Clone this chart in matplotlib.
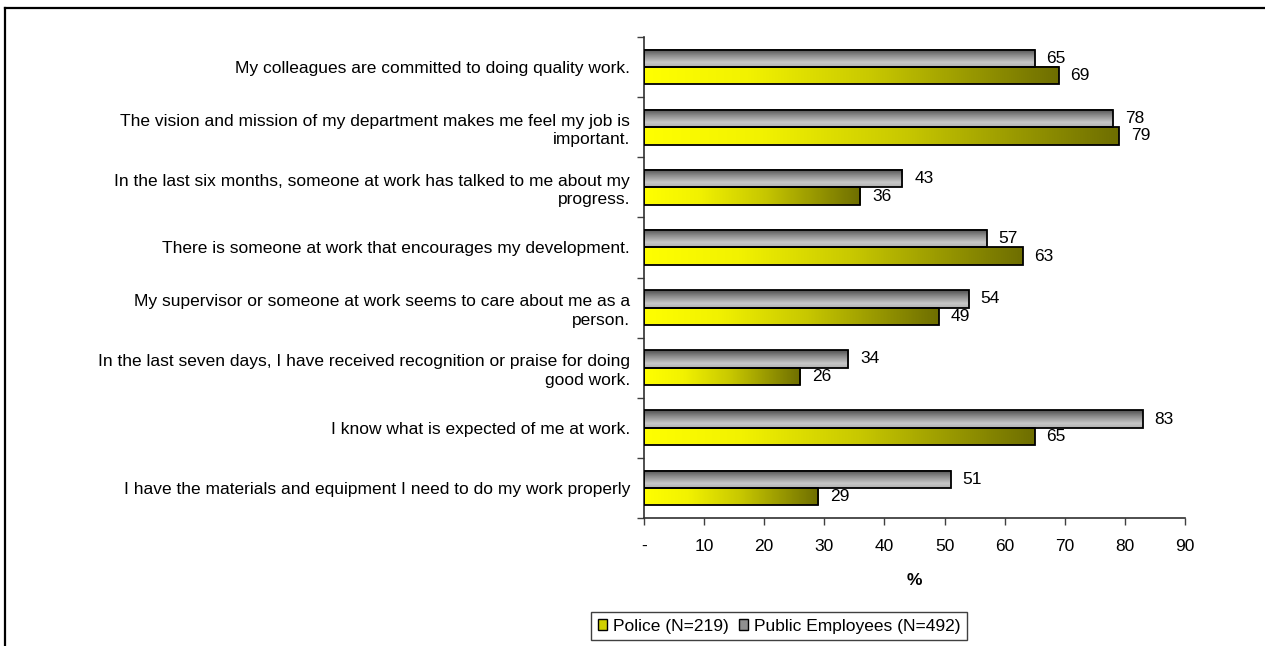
import numpy as np
import matplotlib
matplotlib.use("Agg")
import matplotlib.pyplot as plt
from matplotlib.lines import Line2D
from matplotlib.patches import Patch
from matplotlib.colors import LinearSegmentedColormap

plt.rcParams['font.family'] = ['Liberation Sans', 'DejaVu Sans']

# Survey statements, top to bottom
statements = [
    "My colleagues are committed to doing quality work.",
    "The vision and mission of my department makes me feel my job is\nimportant.",
    "In the last six months, someone at work has talked to me about my\nprogress.",
    "There is someone at work that encourages my development.",
    "My supervisor or someone at work seems to care about me as a\nperson.",
    "In the last seven days, I have received recognition or praise for doing\ngood work.",
    "I know what is expected of me at work.",
    "I have the materials and equipment I need to do my work properly",
]
police = [69, 79, 36, 63, 49, 26, 65, 29]
public_employees = [65, 78, 43, 57, 54, 34, 83, 51]
series_labels = ["Police (N=219)", "Public Employees (N=492)"]
x_ticks = [0, 10, 20, 30, 40, 50, 60, 70, 80, 90]
x_tick_labels = ["-", "10", "20", "30", "40", "50", "60", "70", "80", "90"]

FS = 12.5
W, H = 1265, 646
fig = plt.figure(figsize=(W / 100, H / 100), dpi=100)
ax = fig.add_axes([644 / W, 1 - 518 / H, (1185 - 644) / W, (518 - 37) / H])

n = len(statements)
pos = np.arange(n)
bh = 0.29

yellow_cmap = LinearSegmentedColormap.from_list(
    "ylw", [(0.0, "#ffff00"), (0.25, "#f2f200"), (0.55, "#c8c800"),
            (0.86, "#8a8a00"), (1.0, "#6e6e00")])
gray_cmap = LinearSegmentedColormap.from_list(
    "gry", [(0.0, "#505050"), (0.35, "#8c8c8c"), (0.75, "#c8c8c8"),
            (1.0, "#b0b0b0")])

gbars = ax.barh(pos - bh / 2, public_employees, height=bh, facecolor="none",
                edgecolor="black", linewidth=1.3, zorder=3)
ybars = ax.barh(pos + bh / 2, police, height=bh, facecolor="none",
                edgecolor="black", linewidth=1.3, zorder=3)

grad_h = np.linspace(0, 1, 256).reshape(1, -1)
grad_v = np.linspace(0, 1, 64).reshape(-1, 1)
for b in gbars:
    x0, y0, w, h = b.get_x(), b.get_y(), b.get_width(), b.get_height()
    ax.imshow(grad_v, cmap=gray_cmap, extent=(x0, x0 + w, y0 + h, y0),
              origin="upper", aspect="auto", zorder=2, interpolation="bilinear")
for b in ybars:
    x0, y0, w, h = b.get_x(), b.get_y(), b.get_width(), b.get_height()
    ax.imshow(grad_h, cmap=yellow_cmap, extent=(x0, x0 + w, y0 + h, y0),
              origin="upper", aspect="auto", zorder=2, interpolation="bilinear")

# value labels
for bars, vals in ((gbars, public_employees), (ybars, police)):
    for b, v in zip(bars, vals):
        ax.annotate(f"{v}", (b.get_width(), b.get_y() + b.get_height() / 2),
                    xytext=(8.5, 0), textcoords="offset points", ha="left",
                    va="center", fontsize=FS)

ax.set_xlim(0, 90)
ax.set_ylim(n - 0.5, -0.5)

ax.set_yticks(pos)
ax.set_yticklabels(statements, fontsize=FS, multialignment="right",
                   linespacing=1.3)
ax.tick_params(axis="y", which="major", length=0, pad=10)
ax.set_yticks(np.arange(n + 1) - 0.5, minor=True)
ax.tick_params(axis="y", which="minor", length=5, direction="out",
               color="#404040", width=1)

ax.set_xticks(x_ticks)
ax.set_xticklabels(x_tick_labels, fontsize=FS)
ax.tick_params(axis="x", length=5, direction="out", color="#404040",
               width=1, pad=10)
ax.set_xlabel("%", fontsize=FS, fontweight="bold", labelpad=14)

for s in ("top", "right"):
    ax.spines[s].set_visible(False)
for s in ("left", "bottom"):
    ax.spines[s].set_color("#303030")
    ax.spines[s].set_linewidth(1.2)

handles = [Patch(facecolor="#d0d000", edgecolor="black", linewidth=1),
           Patch(facecolor="#909090", edgecolor="black", linewidth=1)]
fig.legend(handles, series_labels, loc="center",
           bbox_to_anchor=(779 / W, 1 - 626 / H), ncol=2, fontsize=FS,
           frameon=True, fancybox=False, edgecolor="#404040",
           handlelength=0.55, handleheight=0.55, handletextpad=0.3,
           columnspacing=0.6, borderpad=0.4, framealpha=1)

# outer chart border (top and left edges)
fig.add_artist(Line2D([5 / W, 5 / W], [0, 1 - 8 / H], color="black",
                      linewidth=1.6, transform=fig.transFigure))
fig.add_artist(Line2D([5 / W, 1], [1 - 8 / H, 1 - 8 / H], color="black",
                      linewidth=1.6, transform=fig.transFigure))

fig.savefig("out.png", dpi=100)
